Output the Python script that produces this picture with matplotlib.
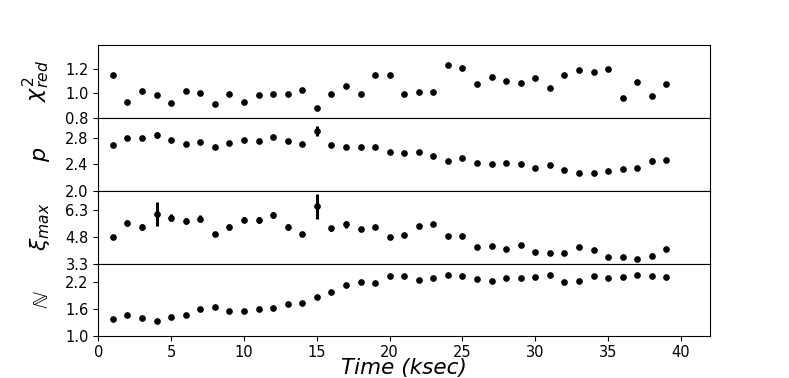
import matplotlib
matplotlib.use("Agg")
import matplotlib.pyplot as plt
import numpy as np

# time bins (ksec)
time = np.arange(1, 40)

chi2_red = [1.15, 0.93, 1.017, 0.983, 0.917, 1.02, 1.005, 0.913, 0.994, 0.93,
            0.983, 0.997, 0.994, 1.025, 0.877, 0.994, 1.058, 0.994, 1.15, 1.15,
            0.994, 1.014, 1.014, 1.23, 1.21, 1.08, 1.133, 1.105, 1.088, 1.125,
            1.047, 1.153, 1.19, 1.175, 1.197, 0.96, 1.09, 0.98, 1.08]

p_index = [2.686, 2.80, 2.80, 2.84, 2.77, 2.70, 2.73, 2.66, 2.72, 2.77,
           2.75, 2.81, 2.755, 2.70, 2.90, 2.686, 2.66, 2.656, 2.66, 2.587,
           2.56, 2.587, 2.52, 2.44, 2.49, 2.42, 2.40, 2.42, 2.40, 2.34,
           2.38, 2.315, 2.26, 2.27, 2.30, 2.33, 2.34, 2.445, 2.46]
p_err = [0.015, 0.015, 0.015, 0.05, 0.02, 0.015, 0.015, 0.015, 0.015, 0.015,
         0.015, 0.015, 0.015, 0.015, 0.08, 0.015, 0.015, 0.015, 0.015, 0.015,
         0.015, 0.015, 0.015, 0.015, 0.015, 0.015, 0.015, 0.015, 0.015, 0.015,
         0.015, 0.015, 0.015, 0.015, 0.015, 0.015, 0.015, 0.04, 0.02]

xi_max = [4.8, 5.56, 5.32, 6.06, 5.84, 5.67, 5.80, 4.95, 5.34, 5.74,
          5.71, 6.0, 5.34, 4.95, 6.47, 5.26, 5.47, 5.22, 5.32, 4.8,
          4.89, 5.37, 5.5, 4.84, 4.85, 4.24, 4.3, 4.13, 4.34, 3.93,
          3.89, 3.89, 4.24, 4.08, 3.69, 3.69, 3.54, 3.74, 4.13]
xi_err = [0.05, 0.15, 0.15, 0.67, 0.2, 0.17, 0.17, 0.08, 0.17, 0.15,
          0.15, 0.17, 0.15, 0.1, 0.68, 0.15, 0.17, 0.12, 0.12, 0.05,
          0.06, 0.12, 0.12, 0.06, 0.06, 0.06, 0.06, 0.06, 0.08, 0.05,
          0.05, 0.05, 0.1, 0.1, 0.05, 0.05, 0.05, 0.15, 0.1]

norm = [1.387, 1.47, 1.40, 1.35, 1.42, 1.475, 1.60, 1.645, 1.556, 1.556,
        1.607, 1.63, 1.71, 1.725, 1.857, 1.974, 2.13, 2.20, 2.17, 2.325,
        2.32, 2.25, 2.29, 2.355, 2.325, 2.26, 2.21, 2.28, 2.28, 2.31,
        2.34, 2.19, 2.215, 2.325, 2.29, 2.30, 2.35, 2.325, 2.30]

fig, axes = plt.subplots(4, 1, sharex=True, figsize=(7.89, 3.78), dpi=100)
fig.subplots_adjust(left=0.1246, right=0.90, bottom=0.1098, top=0.8817, hspace=0)

panels = [
    (chi2_red, None, r"$\chi^2_{red}$", (0.8, 1.4), [0.8, 1.0, 1.2]),
    (p_index, p_err, r"$p$", (2.0, 3.1), [2.0, 2.4, 2.8]),
    (xi_max, xi_err, r"$\xi_{max}$", (3.3, 7.35), [3.3, 4.8, 6.3]),
    (norm, None, r"$\mathbb{N}$", (1.0, 2.6), [1.0, 1.6, 2.2]),
]

for ax, (vals, errs, label, lims, ticks) in zip(axes, panels):
    ax.errorbar(time, vals, yerr=errs, fmt="o", color="black", ms=3.8,
                elinewidth=2.2, capsize=0)
    ax.set_ylim(*lims)
    ax.set_yticks(ticks)
    ax.set_ylabel(label, fontsize=16)
    ax.yaxis.set_label_coords(-0.075, 0.5)
    ax.tick_params(axis="both", labelsize=10.5)

axes[-1].set_xlim(0, 42)
axes[-1].set_xticks(range(0, 41, 5))
axes[-1].tick_params(axis="x", pad=2.5)
axes[-1].set_xlabel("Time (ksec)", fontsize=15.5, fontstyle="italic")
axes[-1].xaxis.set_label_coords(0.5, -0.3)

fig.savefig("out.png", dpi=100)
